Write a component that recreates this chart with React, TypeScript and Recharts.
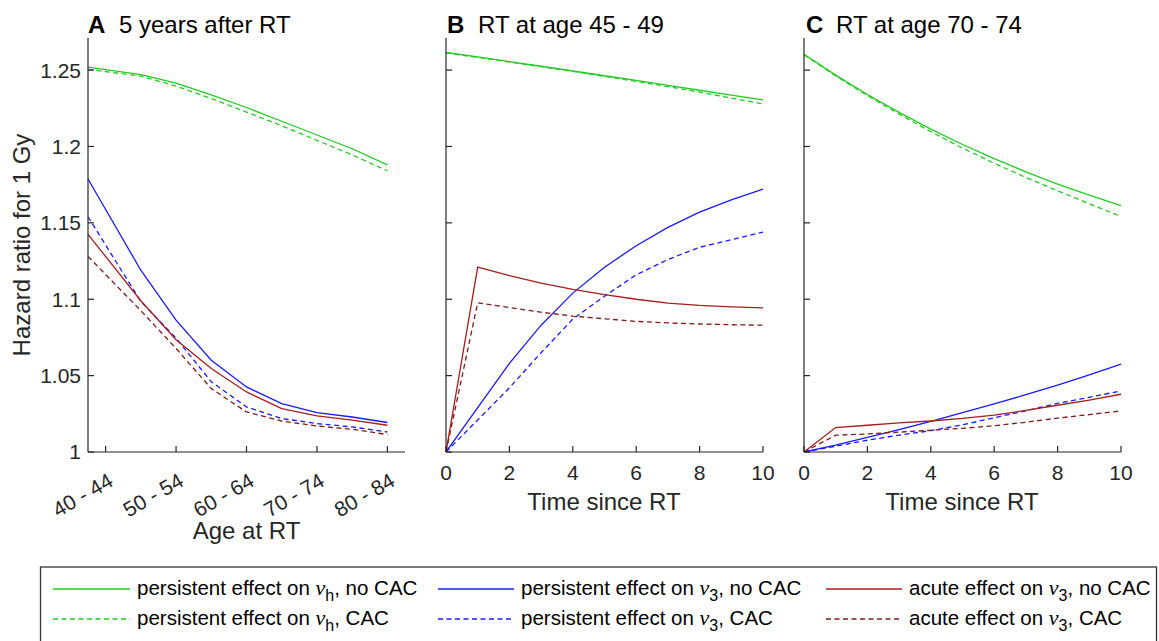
import React from 'react';
import { LineChart, Line, XAxis, YAxis } from 'recharts';

// x values
const ageGroups = ['40 - 44', '45 - 49', '50 - 54', '55 - 59', '60 - 64', '65 - 69', '70 - 74', '75 - 79', '80 - 84'];
const ageX = [-0.5, 1, 2, 3, 4, 5, 6, 7, 8];
const yearsSinceRT = [0, 1, 2, 3, 4, 5, 6, 7, 8, 9, 10];
const yTicks = [1, 1.05, 1.1, 1.15, 1.2, 1.25];
const yTickLabels = ['1', '1.05', '1.1', '1.15', '1.2', '1.25'];
const timeTicks = [0, 2, 4, 6, 8, 10];

// panel A: 5 years after RT, by age at RT
const hNoCacA = [1.2520, 1.2470, 1.2414, 1.2338, 1.2255, 1.2165, 1.2075, 1.1985, 1.1880];
const hCacA = [1.2505, 1.2460, 1.2395, 1.2314, 1.2225, 1.2135, 1.2040, 1.1945, 1.1841];
const v3NoCacA = [1.1787, 1.1190, 1.0863, 1.0601, 1.0426, 1.0317, 1.0258, 1.0229, 1.0193];
const v3CacA = [1.1540, 1.0985, 1.0745, 1.0460, 1.0295, 1.0219, 1.0186, 1.0164, 1.0131];
const acuteNoCacA = [1.1425, 1.0990, 1.0735, 1.0546, 1.0393, 1.0284, 1.0236, 1.0208, 1.0175];
const acuteCacA = [1.1280, 1.0925, 1.0678, 1.0415, 1.0262, 1.0203, 1.0170, 1.0149, 1.0114];

// panel B: RT at age 45 - 49
const hNoCacB = [1.2615, 1.2586, 1.2556, 1.2525, 1.2494, 1.2463, 1.2432, 1.2400, 1.2368, 1.2336, 1.2305];
const hCacB = [1.2612, 1.2583, 1.2553, 1.2522, 1.2491, 1.2459, 1.2426, 1.2392, 1.2355, 1.2317, 1.2278];
const v3NoCacB = [1.0, 1.029, 1.058, 1.083, 1.104, 1.121, 1.135, 1.147, 1.157, 1.165, 1.172];
const v3CacB = [1.0, 1.021, 1.042, 1.065, 1.087, 1.102, 1.116, 1.126, 1.134, 1.139, 1.144];
const acuteNoCacB = [1.0, 1.121, 1.1155, 1.1105, 1.1065, 1.103, 1.100, 1.0975, 1.096, 1.095, 1.0943];
const acuteCacB = [1.0, 1.0977, 1.0945, 1.0915, 1.089, 1.0872, 1.0855, 1.0845, 1.0838, 1.0833, 1.083];

// panel C: RT at age 70 - 74
const hNoCacC = [1.2604, 1.2467, 1.2340, 1.2223, 1.2114, 1.2013, 1.1920, 1.1834, 1.1754, 1.1681, 1.1613];
const hCacC = [1.2600, 1.2462, 1.2333, 1.2212, 1.2097, 1.1990, 1.1890, 1.1797, 1.1710, 1.1625, 1.1542];
const v3NoCacC = [1.0, 1.0045, 1.0095, 1.0147, 1.0200, 1.0258, 1.0315, 1.0375, 1.0438, 1.0505, 1.0575];
const v3CacC = [1.0, 1.0038, 1.0077, 1.0110, 1.0140, 1.0178, 1.0224, 1.0270, 1.0318, 1.0358, 1.0400];
const acuteNoCacC = [1.0, 1.0160, 1.0175, 1.0190, 1.0203, 1.0220, 1.0242, 1.0272, 1.0306, 1.0340, 1.0378];
const acuteCacC = [1.0, 1.0110, 1.0118, 1.0130, 1.0142, 1.0155, 1.0172, 1.0195, 1.0222, 1.0245, 1.0269];

const font = 'Arial, "Liberation Sans", sans-serif';
const axisColor = '#262626';

const seriesStyles = [
  { key: 'hNoCac', color: '#22cc22', dash: false, pre: 'persistent effect on ', sub: 'h', tail: ', no CAC' },
  { key: 'hCac', color: '#22cc22', dash: true, pre: 'persistent effect on ', sub: 'h', tail: ', CAC' },
  { key: 'v3NoCac', color: '#1a1aff', dash: false, pre: 'persistent effect on ', sub: '3', tail: ', no CAC' },
  { key: 'v3Cac', color: '#1a1aff', dash: true, pre: 'persistent effect on ', sub: '3', tail: ', CAC' },
  { key: 'acuteNoCac', color: '#a81e1e', dash: false, pre: 'acute effect on ', sub: '3', tail: ', no CAC' },
  { key: 'acuteCac', color: '#821a1a', dash: true, pre: 'acute effect on ', sub: '3', tail: ', CAC' },
];

const buildRows = (x: number[], s: Record<string, number[]>) =>
  x.map((xv, i) => {
    const row: any = { x: xv };
    Object.keys(s).forEach(k => { row[k] = s[k][i]; });
    return row;
  });

const AgeTick = ({ x, y, payload }: any) => (
  <text x={0} y={0} transform={`translate(${x + 9},${y + 20}) rotate(-30)`} textAnchor="end"
    fontSize={21} fill={axisColor} fontFamily={font}>
    {ageGroups[payload.value]}
  </text>
);

interface PanelProps {
  left: number;
  yWidth: number;
  rows: any[];
  domain: [number, number];
  xTicks: number[];
  showYLabels: boolean;
  ageAxis?: boolean;
}

const Panel: React.FC<PanelProps> = ({ left, yWidth, rows, domain, xTicks, showYLabels, ageAxis }) => (
  <div style={{ position: 'absolute', left, top: 0 }}>
    <LineChart width={yWidth + 317 + 12} height={560} data={rows} margin={{ top: 38, right: 12, left: 0, bottom: 48 }}>
      <XAxis type="number" dataKey="x" domain={domain} ticks={xTicks} height={60}
        stroke={axisColor} strokeWidth={1.2} tickSize={-6} tickMargin={19}
        tick={ageAxis ? <AgeTick /> : { fill: axisColor, fontSize: 21, fontFamily: font }} />
      <YAxis type="number" domain={[1, 1.271]} ticks={yTicks} width={yWidth} allowDataOverflow
        stroke={axisColor} strokeWidth={1.2} tickSize={-6} tickMargin={13}
        tickFormatter={(v: number) => yTickLabels[yTicks.indexOf(v)]}
        tick={showYLabels ? { fill: axisColor, fontSize: 21, fontFamily: font } : () => <g />} />
      {seriesStyles.map(s => (
        <Line key={s.key} dataKey={s.key} type="linear" stroke={s.color} strokeWidth={1.3}
          strokeDasharray={s.dash ? '5 3.5' : undefined} dot={false} activeDot={false}
          isAnimationActive={false} />
      ))}
    </LineChart>
  </div>
);

const legendCols = [
  { x1: 53, x2: 130, tx: 137 },
  { x1: 438, x2: 514, tx: 521 },
  { x1: 826, x2: 902, tx: 909 },
];
const legendRows = [{ ly: 589, ty: 594.5 }, { ly: 619, ty: 624.5 }];

export default function App() {
  const rowsA = buildRows(ageX, {
    hNoCac: hNoCacA, hCac: hCacA, v3NoCac: v3NoCacA, v3Cac: v3CacA, acuteNoCac: acuteNoCacA, acuteCac: acuteCacA,
  });
  const rowsB = buildRows(yearsSinceRT, {
    hNoCac: hNoCacB, hCac: hCacB, v3NoCac: v3NoCacB, v3Cac: v3CacB, acuteNoCac: acuteNoCacB, acuteCac: acuteCacB,
  });
  const rowsC = buildRows(yearsSinceRT, {
    hNoCac: hNoCacC, hCac: hCacC, v3NoCac: v3NoCacC, v3Cac: v3CacC, acuteNoCac: acuteNoCacC, acuteCac: acuteCacC,
  });

  return (
    <div style={{ position: 'absolute', left: 0, top: 0, width: 1159, height: 641, background: '#fff', fontFamily: font, overflow: 'hidden' }}>
      <Panel left={0} yWidth={88} rows={rowsA} domain={[-0.5, 8.5]} xTicks={[0, 2, 4, 6, 8]} showYLabels ageAxis />
      <Panel left={430} yWidth={16} rows={rowsB} domain={[0, 10]} xTicks={timeTicks} showYLabels={false} />
      <Panel left={788} yWidth={16} rows={rowsC} domain={[0, 10]} xTicks={timeTicks} showYLabels={false} />

      <svg width={1159} height={641} style={{ position: 'absolute', left: 0, top: 0, pointerEvents: 'none' }} fontFamily={font}>
        <text x={88} y={32.5} fontSize={24} fill="#000">
          <tspan fontWeight="bold">A</tspan><tspan x={119}>5 years after RT</tspan>
        </text>
        <text x={447} y={32.5} fontSize={24} fill="#000">
          <tspan fontWeight="bold">B</tspan><tspan x={478}>RT at age 45 - 49</tspan>
        </text>
        <text x={806} y={32.5} fontSize={24} fill="#000">
          <tspan fontWeight="bold">C</tspan><tspan x={836}>RT at age 70 - 74</tspan>
        </text>

        <text transform="translate(30,245) rotate(-90)" textAnchor="middle" fontSize={24} fill={axisColor}>Hazard ratio for 1 Gy</text>
        <text x={246.5} y={539} textAnchor="middle" fontSize={24} fill={axisColor}>Age at RT</text>
        <text x={604} y={509.5} textAnchor="middle" fontSize={24} fill={axisColor}>Time since RT</text>
        <text x={962} y={509.5} textAnchor="middle" fontSize={24} fill={axisColor}>Time since RT</text>

        <rect x={40.5} y={567} width={1116} height={100} fill="none" stroke="#333" strokeWidth={1.3} />
        {seriesStyles.map((s, i) => {
          const col = legendCols[Math.floor(i / 2)];
          const row = legendRows[i % 2];
          return (
            <g key={s.key}>
              <line x1={col.x1} x2={col.x2} y1={row.ly} y2={row.ly} stroke={s.color} strokeWidth={1.3}
                strokeDasharray={s.dash ? '5 3.5' : undefined} />
              <text x={col.tx} y={row.ty} fontSize={20.5} fill="#000">
                {s.pre}
                <tspan fontFamily='"Liberation Serif", serif' fontStyle="italic" fontSize={22}>ν</tspan>
                <tspan fontSize={16} dy={6}>{s.sub}</tspan>
                <tspan dy={-6}>{s.tail}</tspan>
              </text>
            </g>
          );
        })}
      </svg>
    </div>
  );
}
